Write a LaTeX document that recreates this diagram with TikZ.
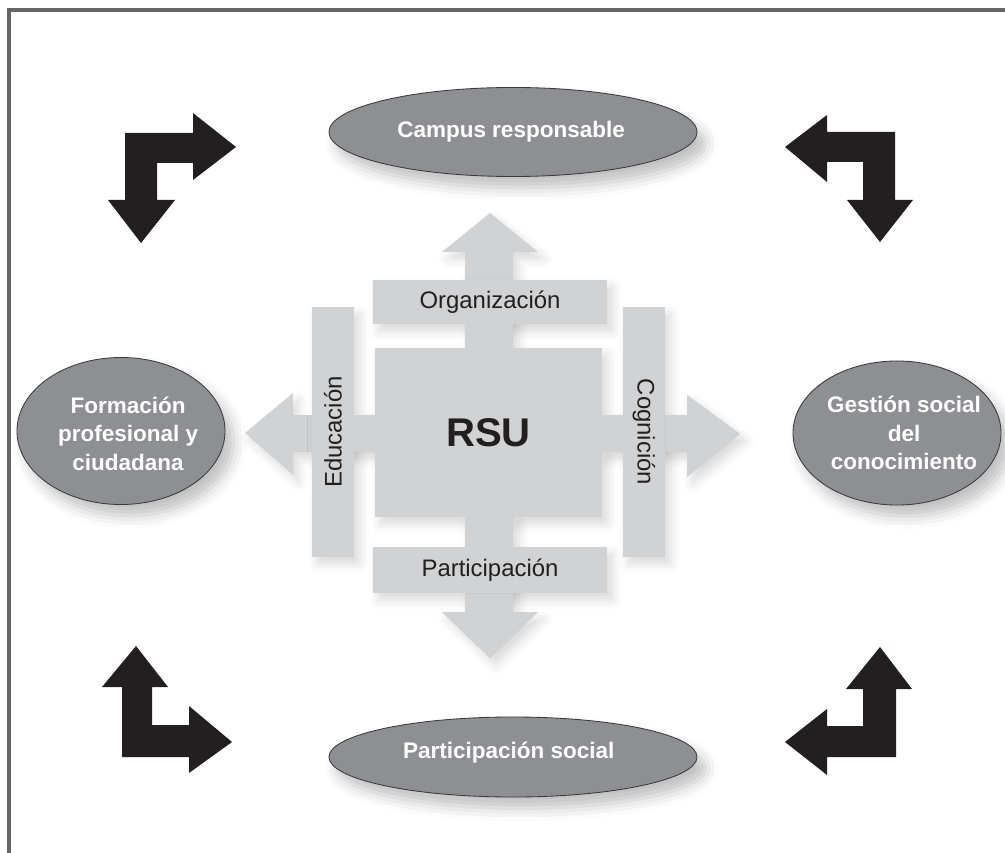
\documentclass[tikz,border=0pt]{standalone}
\usepackage{fontspec}
\setmainfont{Liberation Sans}
\usetikzlibrary{shapes.geometric, shadows.blur}
\definecolor{crossgray}{HTML}{D1D2D4}
\definecolor{bubblegray}{HTML}{8E8F93}
\definecolor{bubbleline}{HTML}{3A3A3C}
\definecolor{bendblack}{HTML}{231F20}
\definecolor{framegray}{HTML}{666666}
\definecolor{textblack}{HTML}{231F20}

\begin{document}
\begin{tikzpicture}[x=0.025cm, y=-0.025cm,
  softshadow/.style={blur shadow={shadow xshift=4pt, shadow yshift=-5pt, shadow blur radius=7pt, shadow opacity=15}},
  bubble/.style={ellipse, draw=bubbleline, line width=0.6pt, fill=bubblegray, inner sep=0pt,
    blur shadow={shadow xshift=6pt, shadow yshift=-8pt, shadow blur radius=9pt, shadow opacity=25}},
  bubbletext/.style={text=white, font=\bfseries\fontsize{16}{20.5}\selectfont, align=center},
  bar/.style={rectangle, fill=crossgray, inner sep=0pt, text=textblack, font=\fontsize{17}{20}\selectfont, softshadow},
  bentarrow/.style={fill=bendblack}]
\useasboundingbox (0,0) rectangle (1005,853);
\draw[framegray, line width=2.4pt] (9,853) -- (9,10) -- (1005,10);

\node (campus) [bubble, minimum width=9.2cm, minimum height=2.225cm,
    label={[bubbletext, xshift=-1.4pt]center:Campus responsable}] at (513,132) {};
\node (formacion) [bubble, minimum width=5.2cm, minimum height=3.675cm,
    label={[bubbletext, xshift=5pt, yshift=-2pt]center:Formación\\profesional y\\ciudadana}] at (121,431) {};
\node (gestion) [bubble, minimum width=5.2cm, minimum height=3.6cm,
    label={[bubbletext, xshift=5pt]center:Gestión social\\del\\conocimiento}] at (897,433) {};
\node (social) [bubble, minimum width=9.2cm, minimum height=2cm,
    label={[bubbletext, xshift=-3pt, yshift=3pt]center:Participación social}] at (513,757) {};

\fill[crossgray, softshadow] (465,348) -- (465,252) -- (442,252) -- (490,213) -- (538,252) -- (513,252) -- (513,348) -- cycle;
\fill[crossgray, softshadow] (465,517) -- (465,612) -- (442,612) -- (490,658) -- (538,612) -- (513,612) -- (513,517) -- cycle;
\fill[crossgray, softshadow] (375,415) -- (293,415) -- (293,393) -- (245,433) -- (293,475) -- (293,452) -- (375,452) -- cycle;
\fill[crossgray, softshadow] (602,415) -- (687,415) -- (687,395) -- (740,434) -- (687,477) -- (687,452) -- (602,452) -- cycle;

\node (rsu) [bar, minimum width=5.675cm, minimum height=4.225cm, font=\bfseries\fontsize{28.5}{30}\selectfont] at (488.5,432.5) {RSU};
\node (organizacion) [bar, minimum width=5.85cm, minimum height=1.1cm] at (490,302) {Organización};
\node (participacion) [bar, minimum width=5.85cm, minimum height=1.15cm] at (490,570) {Participación};
\node (educacion) [bar, minimum width=1.05cm, minimum height=6.25cm,
    label={[rotate=90, text=textblack, font=\fontsize{17}{20}\selectfont]center:Educación}] at (333,432) {};
\node (cognicion) [bar, minimum width=1.05cm, minimum height=6.25cm,
    label={[rotate=-90, text=textblack, font=\fontsize{17}{20}\selectfont]center:Cognición}] at (644,432) {};

\fill[crossgray] (organizacion.south -| 465,0) rectangle (rsu.north -| 513,0);
\fill[crossgray] (rsu.south -| 465,0) rectangle (participacion.north -| 513,0);
\fill[crossgray] (educacion.east |- 0,415) rectangle (rsu.west |- 0,452);
\fill[crossgray] (rsu.east |- 0,415) rectangle (cognicion.west |- 0,452);
\fill[crossgray] (participacion.south -| 465,0) -- (465,612) -- (442,612) -- (490,658) -- (538,612) -- (513,612) -- (participacion.south -| 513,0) -- cycle;
\fill[crossgray] (cognicion.east |- 0,415) -- (687,415) -- (687,395) -- (740,434) -- (687,477) -- (687,452) -- (cognicion.east |- 0,452) -- cycle;

\fill[bentarrow] (125,133) -- (193,133) -- (193,113) -- (236,147) -- (193,180) -- (193,163) -- (157,163) -- (157,200) -- (175,200) -- (141,243) -- (108,200) -- (125,200) -- cycle;
\fill[bentarrow] (895,132) -- (827,132) -- (827,115) -- (785,147) -- (827,182) -- (827,162) -- (863,162) -- (863,200) -- (847,200) -- (880,242) -- (913,200) -- (895,200) -- cycle;
\fill[bentarrow] (122,757) -- (122,687) -- (102,687) -- (136,646) -- (168,687) -- (152,687) -- (152,725) -- (189,725) -- (189,706) -- (232,742) -- (189,773) -- (189,757) -- cycle;
\fill[bentarrow] (896,757) -- (896,689) -- (912,689) -- (880,647) -- (846,689) -- (863,689) -- (863,726) -- (827,726) -- (827,709) -- (785,742) -- (827,775) -- (827,757) -- cycle;
\end{tikzpicture}
\end{document}
